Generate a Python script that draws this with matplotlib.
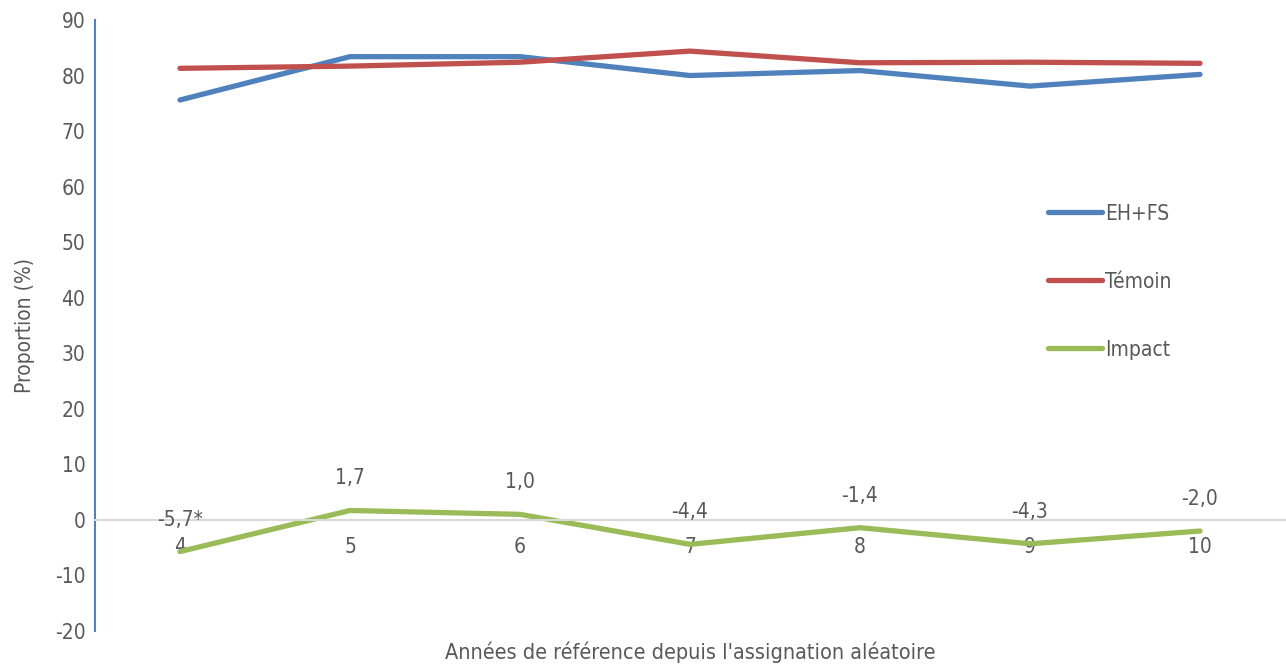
import matplotlib
matplotlib.use('Agg')
import matplotlib.pyplot as plt

plt.rcParams['font.family'] = ['DejaVu Sans']
plt.rcParams['font.stretch'] = 'condensed'
plt.rcParams['axes.unicode_minus'] = False

years = [4, 5, 6, 7, 8, 9, 10]
eh_fs = [75.6, 83.4, 83.4, 80.0, 80.9, 78.1, 80.2]
temoin = [81.3, 81.7, 82.4, 84.4, 82.3, 82.4, 82.2]
impact = [-5.7, 1.7, 1.0, -4.4, -1.4, -4.3, -2.0]
impact_labels = ['-5,7*', '1,7', '1,0', '-4,4', '-1,4', '-4,3', '-2,0']

txt = '#595959'

fig = plt.figure(figsize=(12.86, 6.69), dpi=100)
ax = fig.add_axes([95 / 1286, 38 / 669, 1190 / 1286, 611 / 669])

ax.plot(years, eh_fs, color='#4F81BD', lw=3.8, solid_capstyle='round', label='EH+FS')
ax.plot(years, temoin, color='#C0504D', lw=3.8, solid_capstyle='round', label='Témoin')
ax.plot(years, impact, color='#9BBB59', lw=3.8, solid_capstyle='round', label='Impact')

for x, y, lab in zip(years, impact, impact_labels):
    ax.annotate(lab, (x, y), xytext=(0, 32), textcoords='offset pixels',
                ha='center', va='center', fontsize=15, color=txt)

ax.set_xlim(3.5, 10.5)
ax.set_ylim(-20, 90)
ax.set_yticks(range(-20, 91, 10))
ax.set_xticks(years)
ax.set_xticklabels([str(y) for y in years])

for s in ['top', 'right']:
    ax.spines[s].set_visible(False)
ax.spines['left'].set_color('#4F81BD')
ax.spines['left'].set_linewidth(1.5)
ax.spines['bottom'].set_position(('data', 0))
ax.spines['bottom'].set_color('#D9D9D9')
ax.spines['bottom'].set_linewidth(1.5)
ax.tick_params(axis='both', length=0, labelsize=15, colors=txt)
ax.tick_params(axis='y', pad=7)
ax.tick_params(axis='x', pad=12)

ax.set_ylabel('Proportion (%)', fontsize=15, color=txt, labelpad=14)
fig.text(690 / 1286, 1 - 652 / 669, "Années de référence depuis l'assignation aléatoire",
         ha='center', va='center', fontsize=15.5, color=txt)

leg = ax.legend(loc='upper left', bbox_to_anchor=(1029 / 1286, 1 - 185 / 669),
                bbox_transform=fig.transFigure, frameon=False, fontsize=15,
                labelspacing=2.3, handlelength=2.6, handletextpad=0.15)
for t in leg.get_texts():
    t.set_color(txt)

fig.savefig('out.png', dpi=100)
